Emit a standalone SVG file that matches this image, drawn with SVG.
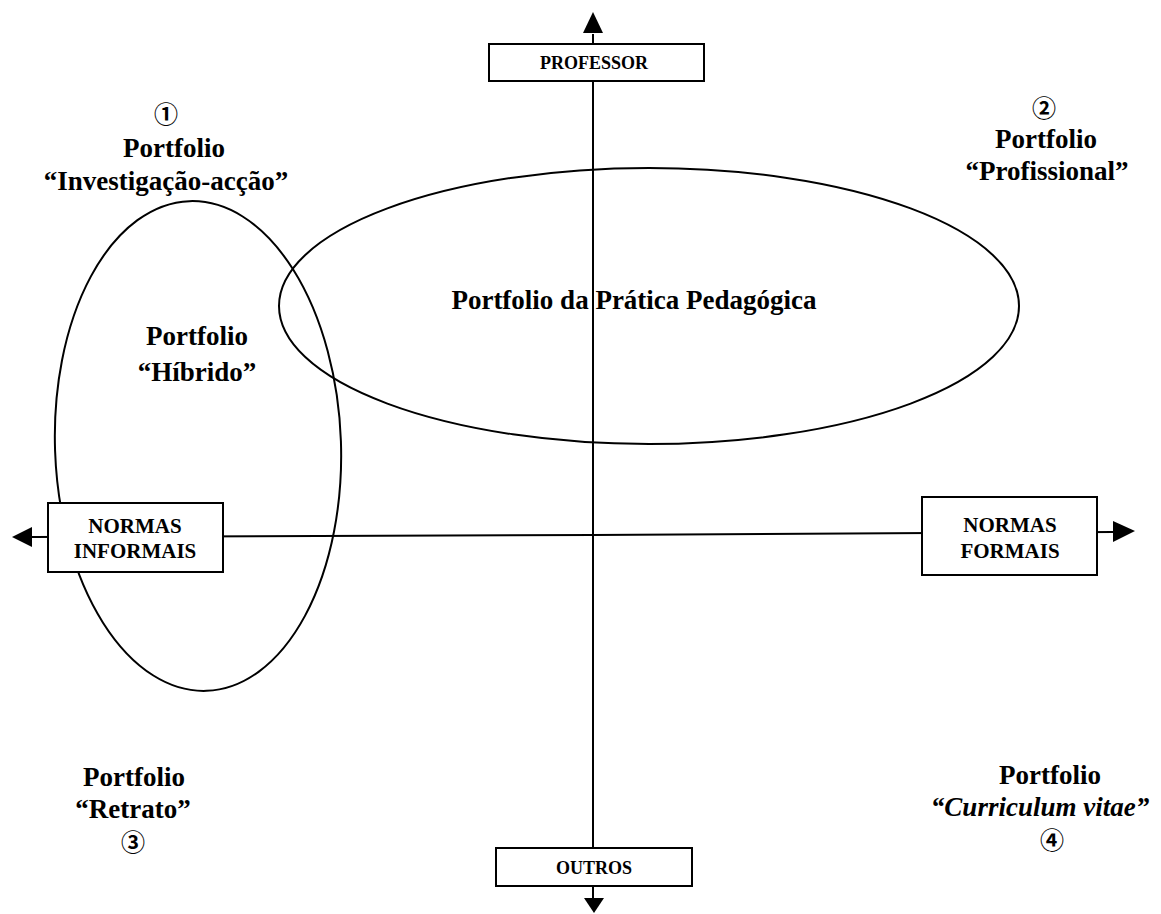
<svg xmlns="http://www.w3.org/2000/svg" width="1161" height="914" viewBox="0 0 1161 914">
<style>
.ln{stroke:#000;stroke-width:2;fill:none}
.box{stroke:#000;stroke-width:2;fill:#fff}
.lbl{font-family:"Liberation Serif","Times New Roman",serif;font-weight:bold;font-size:27px;fill:#000;text-anchor:middle}
.bx{font-family:"Liberation Serif","Times New Roman",serif;font-weight:bold;font-size:18px;fill:#000;text-anchor:middle}
.bx2{font-family:"Liberation Serif","Times New Roman",serif;font-weight:bold;font-size:21px;fill:#000;text-anchor:middle}
.num{font-family:"Noto Sans CJK JP","Noto Sans CJK SC",sans-serif;font-weight:bold;font-size:24px;fill:#000;text-anchor:middle}
</style>
<rect width="1161" height="914" fill="#fff"/>
<g id="connectors">
<line class="ln" x1="593" y1="460" x2="593" y2="34"/>
<path d="M593,12 L603,33 L583,33 z" fill="#000"/>
<line class="ln" x1="593" y1="460" x2="593" y2="898"/>
<path d="M594,913 L584,898 L604,898 z" fill="#000"/>
<line class="ln" x1="593" y1="535" x2="32" y2="537"/>
<path d="M12,537 L32,527 L32,547 z" fill="#000"/>
<line class="ln" x1="593" y1="535" x2="1114" y2="532"/>
<path d="M1135,531 L1113,521 L1113,542 z" fill="#000"/>
</g>
<g id="ellipse-pratica">
<ellipse class="ln" cx="649" cy="306" rx="370" ry="138"/>
<text class="lbl" x="634" y="309">Portfolio da Prática Pedagógica</text>
</g>
<g id="ellipse-hibrido">
<ellipse class="ln" cx="198" cy="446" rx="143" ry="245" transform="rotate(-2 198 446)"/>
<text class="lbl" x="197" y="345">Portfolio</text>
<text class="lbl" x="197" y="381">“Híbrido”</text>
</g>
<g id="professor">
<rect class="box" x="489" y="44" width="215" height="37"/>
<text class="bx" x="594" y="69">PROFESSOR</text>
</g>
<g id="outros">
<rect class="box" x="496" y="848" width="196" height="38"/>
<text class="bx" x="594" y="874">OUTROS</text>
</g>
<g id="normas-informais">
<rect class="box" x="48" y="503" width="175" height="69"/>
<text class="bx2" x="135" y="533">NORMAS</text>
<text class="bx2" x="135" y="558">INFORMAIS</text>
</g>
<g id="normas-formais">
<rect class="box" x="922" y="497" width="175" height="78"/>
<text class="bx2" x="1010" y="532">NORMAS</text>
<text class="bx2" x="1010" y="558">FORMAIS</text>
</g>
<g id="q1">
<text class="num" x="166" y="123">①</text>
<text class="lbl" x="174" y="157">Portfolio</text>
<text class="lbl" x="166" y="190">“Investigação-acção”</text>
</g>
<g id="q2">
<text class="num" x="1044" y="117">②</text>
<text class="lbl" x="1046" y="148">Portfolio</text>
<text class="lbl" x="1047" y="180">“Profissional”</text>
</g>
<g id="q3">
<text class="lbl" x="134" y="786">Portfolio</text>
<text class="lbl" x="133" y="818">“Retrato”</text>
<text class="num" x="133" y="851">③</text>
</g>
<g id="q4">
<text class="lbl" x="1050" y="784">Portfolio</text>
<text class="lbl" x="1040" y="816" font-style="italic">“Curriculum vitae”</text>
<text class="num" x="1052" y="849">④</text>
</g>
</svg>
